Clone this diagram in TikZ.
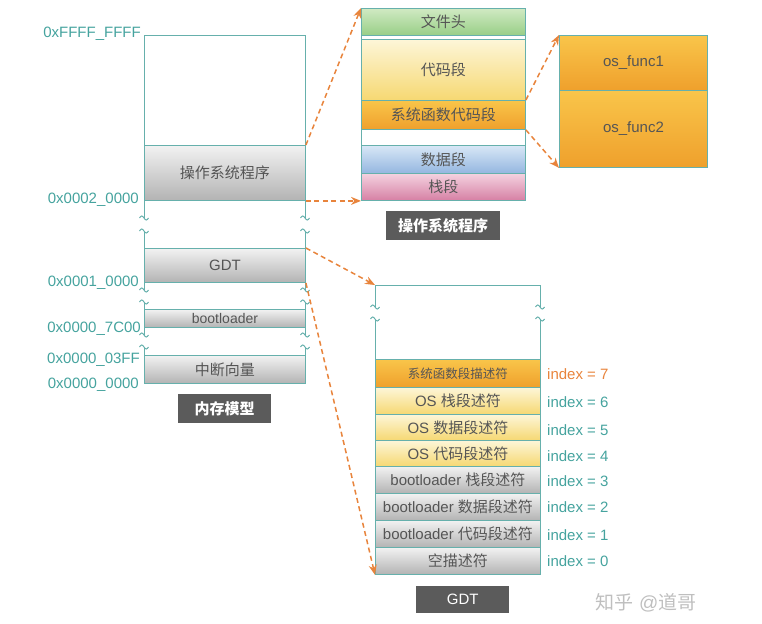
\documentclass[tikz,border=0pt]{standalone}
\usepackage{fontspec}
\setmainfont{Liberation Sans}
\newfontfamily\cjk{Noto Sans CJK SC}
\usetikzlibrary{arrows.meta}
\definecolor{lc}{HTML}{66B0AC}
\definecolor{tc}{HTML}{45A39E}
\definecolor{oc}{HTML}{E8843C}
\definecolor{txt}{HTML}{555555}
\definecolor{lab}{HTML}{5B5B5B}
\definecolor{g1}{HTML}{F2F2F2}\definecolor{g2}{HTML}{B3B3B3}
\definecolor{gr1}{HTML}{D0EAC3}\definecolor{gr2}{HTML}{98CE86}
\definecolor{y1}{HTML}{FDF6D8}\definecolor{y2}{HTML}{F6D872}
\definecolor{o1}{HTML}{F9C54A}\definecolor{o2}{HTML}{EFA02C}
\definecolor{b1}{HTML}{D8E7F6}\definecolor{b2}{HTML}{94B6E0}
\definecolor{p1}{HTML}{F4D2E0}\definecolor{p2}{HTML}{D680A4}
\begin{document}
\begin{tikzpicture}[x=1pt,y=-1pt,
  box/.style={draw=lc, line width=0.9pt, anchor=north west, inner sep=0pt, text=txt,
    font={\fontsize{15}{15}\selectfont}},
  gray/.style={top color=g1, bottom color=g2},
  green/.style={top color=gr1, bottom color=gr2},
  yel/.style={top color=y1, bottom color=y2},
  ora/.style={top color=o1, bottom color=o2},
  blu/.style={top color=b1, bottom color=b2},
  pnk/.style={top color=p1, bottom color=p2},
  wht/.style={fill=white},
  hexl/.style={anchor=base east, text=tc, inner sep=0pt, font={\fontsize{15}{15}\selectfont}},
  idx/.style={anchor=base west, text=tc, inner sep=0pt, font={\fontsize{15}{15}\selectfont}},
  lbl/.style={fill=lab, text=white, inner sep=0pt, font={\fontsize{15}{15}\selectfont}},
  vl/.style={draw=lc, line width=0.9pt},
  arr/.style={draw=oc, line width=1.5pt, dash pattern=on 5pt off 3.5pt, -{Stealth[length=10pt,width=8pt]}},
  tld/.pic={\draw[lc, line width=1pt] (-4.5,0) sin (-2.25,-2) cos (0,0) sin (2.25,2) cos (4.5,0);}
]
\useasboundingbox (0,0) rectangle (762,623);

% ---------- memory model ----------
\node[box, wht, minimum width=161pt, minimum height=110pt] (free) at (144,35) {};
\node[box, gray, minimum width=161pt, minimum height=55pt] (osp) at (144,145) {\cjk 操作系统程序};
\node[box, gray, minimum width=161pt, minimum height=34pt] (gdt) at (144,248) {GDT};
\node[box, gray, minimum width=161pt, minimum height=18pt, font={\fontsize{14}{14}\selectfont}] (bl) at (144,309) {bootloader};
\node[box, gray, minimum width=161pt, minimum height=28pt] (ivt) at (144,355) {\cjk 中断向量};

\foreach \x in {144,305}{
  \draw[vl] (\x,200) -- (\x,218);
  \draw[vl] (\x,231) -- (\x,248);
  \draw[vl] (\x,282) -- (\x,290);
  \draw[vl] (\x,302) -- (\x,309);
  \draw[vl] (\x,327) -- (\x,335);
  \draw[vl] (\x,347) -- (\x,355);
  \foreach \y in {218,231,290,302,335,347} \pic at (\x,\y) {tld};
}

\node[hexl] (h1) at (141,37.5) {0xFFFF\_FFFF};
\node[hexl] (h2) at (139,203.5) {0x0002\_0000};
\node[hexl] (h3) at (139,286.5) {0x0001\_0000};
\node[hexl] (h4) at (141,332.5) {0x0000\_7C00};
\node[hexl] (h5) at (140,363.5) {0x0000\_03FF};
\node[hexl] (h6) at (139,388.5) {0x0000\_0000};

\node[lbl, minimum width=93pt, minimum height=29pt, anchor=north west] (l1) at (178,394) {\cjk\bfseries 内存模型};

% ---------- OS program ----------
\node[box, green, minimum width=164pt, minimum height=27pt] (hdr) at (361,8) {\cjk 文件头};
\node[box, wht, minimum width=164pt, minimum height=4pt] (gapa) at (361,35) {};
\node[box, yel, minimum width=164pt, minimum height=61pt] (code) at (361,39) {\cjk 代码段};
\node[box, ora, minimum width=164pt, minimum height=29pt] (sfc) at (361,100) {\cjk 系统函数代码段};
\node[box, wht, minimum width=164pt, minimum height=16pt] (gapb) at (361,129) {};
\node[box, blu, minimum width=164pt, minimum height=28pt] (dat) at (361,145) {\cjk 数据段};
\node[box, pnk, minimum width=164pt, minimum height=27pt] (stk) at (361,173) {\cjk 栈段};
\node[lbl, minimum width=114pt, minimum height=29pt, anchor=north west] (l2) at (386,211) {\cjk\bfseries 操作系统程序};

% ---------- functions ----------
\node[box, ora, minimum width=148pt, minimum height=55pt] (f1) at (559,35) {os\_func1};
\node[box, ora, minimum width=148pt, minimum height=77pt] (f2) at (559,90) {os\_func2};

% ---------- GDT ----------
\coordinate (gtl) at (375,285);
\coordinate (gtr) at (540,285);
\draw[vl] (gtl) -- (gtr);
\foreach \x in {375,540}{
  \draw[vl] (\x,285) -- (\x,307);
  \draw[vl] (\x,319) -- (\x,359);
  \foreach \y in {307,319} \pic at (\x,\y) {tld};
}
\node[box, ora, minimum width=165pt, minimum height=28pt, font={\fontsize{12.5}{12.5}\selectfont}] (e7) at (375,359) {\cjk 系统函数段描述符};
\node[box, yel, minimum width=165pt, minimum height=27pt] (e6) at (375,387) {OS {\cjk 栈段述符}};
\node[box, yel, minimum width=165pt, minimum height=26pt] (e5) at (375,414) {OS {\cjk 数据段述符}};
\node[box, yel, minimum width=165pt, minimum height=26pt] (e4) at (375,440) {OS {\cjk 代码段述符}};
\node[box, gray, minimum width=165pt, minimum height=27pt] (e3) at (375,466) {bootloader {\cjk 栈段述符}};
\node[box, gray, minimum width=165pt, minimum height=27pt] (e2) at (375,493) {bootloader {\cjk 数据段述符}};
\node[box, gray, minimum width=165pt, minimum height=27pt] (e1) at (375,520) {bootloader {\cjk 代码段述符}};
\node[box, gray, minimum width=165pt, minimum height=27pt] (e0) at (375,547) {\cjk 空描述符};

\node[idx, text=oc] (i7) at (547,379) {index = 7};
\node[idx] (i6) at (547,407) {index = 6};
\node[idx] (i5) at (547,435.5) {index = 5};
\node[idx] (i4) at (547,461.5) {index = 4};
\node[idx] (i3) at (547,486.5) {index = 3};
\node[idx] (i2) at (547,512.5) {index = 2};
\node[idx] (i1) at (547,540.5) {index = 1};
\node[idx] (i0) at (547,566.5) {index = 0};

\node[lbl, minimum width=93pt, minimum height=27pt, anchor=north west] (l3) at (416,586) {GDT};

% ---------- arrows ----------
\draw[arr] (osp.north east) -- (hdr.north west);
\draw[arr] (osp.south east) -- (stk.south west);
\draw[arr] (sfc.north east) -- (f1.north west);
\draw[arr] (sfc.south east) -- (f2.south west);
\draw[arr] (gdt.north east) -- (gtl);
\draw[arr] (gdt.south east) -- (e0.south west);

% ---------- watermark ----------
\node[text=black!25, font={\fontsize{19}{19}\selectfont}] (wm) at (646,603) {{\cjk 知乎} @{\cjk 道哥}};
\end{tikzpicture}
\end{document}
